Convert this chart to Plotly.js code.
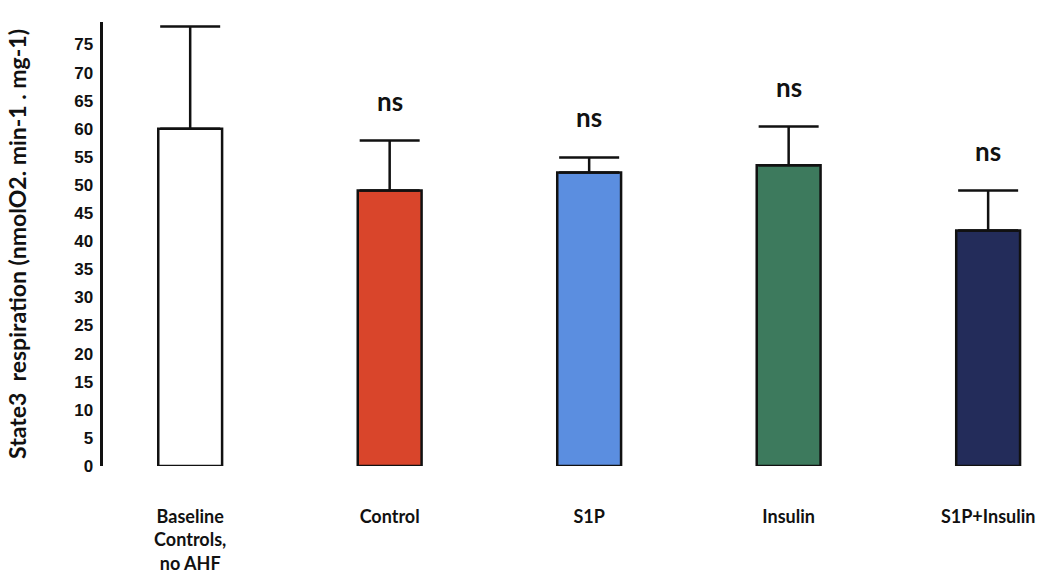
<!DOCTYPE html>
<html>
<head>
<meta charset="utf-8">
<script src="https://cdn.plot.ly/plotly-3.0.1.min.js"></script>
<style>html,body{margin:0;padding:0;background:#fff;}#chart{width:1043px;height:578px;}</style>
</head>
<body>
<div id="chart"></div>
<script>
const categories = ["Baseline<br>Controls,<br>no AHF", "Control", "S1P", "Insulin", "S1P+Insulin"];
const means = [60, 49, 52.2, 53.5, 41.9];
const errors = [18.2, 8.9, 2.7, 6.9, 7.1];
const significance = ["", "ns", "ns", "ns", "ns"];
const barColors = ["#ffffff", "#d9452b", "#5b8ee0", "#3d7a5d", "#232c5a"];
const yTicks = [0, 5, 10, 15, 20, 25, 30, 35, 40, 45, 50, 55, 60, 65, 70, 75];

const trace = {
  type: "bar",
  x: categories,
  y: means,
  marker: {color: barColors, line: {color: "#111", width: 2.5}},
  error_y: {type: "data", array: errors, symmetric: false, arrayminus: errors.map(() => 0),
            color: "#111", thickness: 2.5, width: 30},
  hoverinfo: "x+y"
};

const annotations = categories.map((c, i) => significance[i] ? ({
  x: c, y: means[i] + errors[i], xref: "x", yref: "y",
  text: significance[i], showarrow: false, yanchor: "bottom", yshift: 22,
  font: {family: "Lato", size: 26, color: "#111", weight: "bold"}
}) : null).filter(a => a);

const layout = {
  width: 1043, height: 578,
  margin: {l: 103, r: 1, t: 22, b: 112},
  paper_bgcolor: "#fff", plot_bgcolor: "#fff",
  showlegend: false,
  bargap: 0.68,
  font: {family: "Lato", color: "#111", weight: "bold"},
  xaxis: {
    type: "category", range: [-0.437, 4.27],
    showline: false, showgrid: false, zeroline: false, ticks: "",
    tickfont: {family: "Lato", size: 18, color: "#111", weight: "bold"},
    ticklabelstandoff: 38
  },
  yaxis: {
    range: [0, 79], tickvals: yTicks, ticktext: yTicks.map(String),
    showline: true, linecolor: "#111", linewidth: 3.5,
    showgrid: false, zeroline: false, ticks: "",
    tickfont: {family: "Liberation Sans", size: 17, color: "#111", weight: "bold"},
    ticklabelstandoff: 3,
    title: {text: "State3  respiration (nmolO2. min-1 . mg-1)", standoff: 42,
            font: {family: "Lato", size: 23, color: "#111", weight: "bold"}}
  },
  annotations: annotations
};

Plotly.newPlot("chart", [trace], layout, {displayModeBar: false, staticPlot: true});
</script>
</body>
</html>
